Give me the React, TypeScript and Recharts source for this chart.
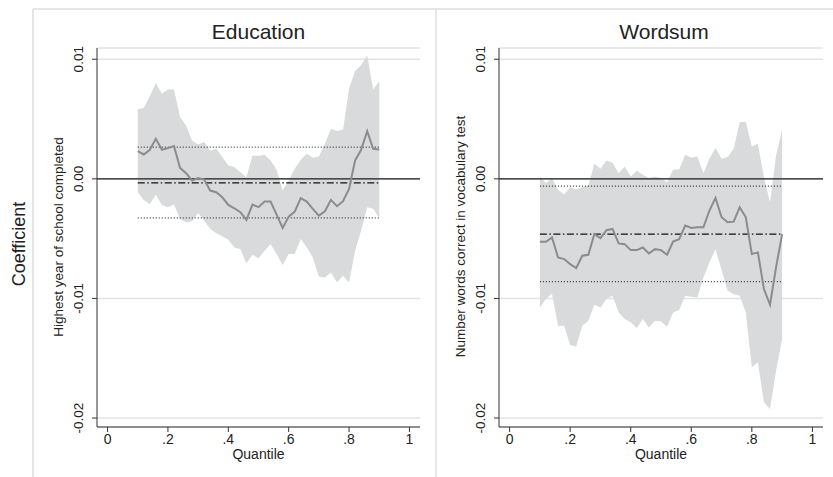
import React from 'react';
import { ComposedChart, Area, Line, XAxis, YAxis, CartesianGrid, ReferenceLine } from 'recharts';

// quantiles estimated, step .02
const QUANTILES = [
  0.1, 0.12, 0.14, 0.16, 0.18, 0.2, 0.22, 0.24, 0.26, 0.28, 0.3, 0.32, 0.34, 0.36,
  0.38, 0.4, 0.42, 0.44, 0.46, 0.48, 0.5, 0.52, 0.54, 0.56, 0.58, 0.6, 0.62, 0.64,
  0.66, 0.68, 0.7, 0.72, 0.74, 0.76, 0.78, 0.8, 0.82, 0.84, 0.86, 0.88, 0.9,
];

const EDU_COEF = [
  0.00232, 0.00204, 0.00243, 0.00335, 0.00243, 0.00257, 0.00274, 0.00092, 0.00047, -0.00014,
  0.00006, -0.00006, -0.00098, -0.00112, -0.00154, -0.00218, -0.00246, -0.00279, -0.00344, -0.00215,
  -0.00237, -0.0019, -0.0019, -0.00299, -0.0041, -0.00316, -0.00274, -0.00162, -0.0019, -0.00251,
  -0.00307, -0.00271, -0.00176, -0.00229, -0.00187, -0.00084, 0.00154, 0.00243, 0.00399, 0.00251,
  0.00246,
];
const EDU_UPPER = [
  0.00581, 0.00592, 0.0069, 0.00802, 0.00712, 0.00746, 0.00746, 0.00517, 0.00447, 0.00321,
  0.00288, 0.00307, 0.00237, 0.00251, 0.00182, 0.00112, 0.00098, 0.00056, 0.00014, 0.00196,
  0.0019, 0.00201, 0.00154, 0.00075, -0.00098, -0.00014, 0.00084, 0.00159, 0.0021, 0.00176,
  0.00187, 0.00293, 0.00419, 0.00399, 0.00411, 0.00754, 0.00902, 0.0095, 0.01034, 0.00746,
  0.00816,
];
const EDU_LOWER = [
  -0.00112, -0.00176, -0.0021, -0.00134, -0.00218, -0.00237, -0.00215, -0.00335, -0.00363, -0.00355,
  -0.00285, -0.00349, -0.00419, -0.00455, -0.0048, -0.0051, -0.00574, -0.00588, -0.00705, -0.00635,
  -0.00663, -0.00602, -0.00546, -0.00629, -0.00721, -0.00629, -0.00629, -0.00504, -0.00574, -0.00657,
  -0.00816, -0.00824, -0.00783, -0.00866, -0.0081, -0.00866, -0.00602, -0.00434, -0.00237, -0.00251,
  -0.00327,
];
const EDU_OLS = -0.00034;
const EDU_OLS_CI = [0.00265, -0.00327];

const WORD_COEF = [
  -0.00526, -0.00526, -0.0049, -0.00657, -0.00671, -0.00713, -0.00746, -0.00643, -0.00635, -0.00462,
  -0.00496, -0.0043, -0.00419, -0.0054, -0.00546, -0.00596, -0.00596, -0.00574, -0.00624, -0.00588,
  -0.00596, -0.00635, -0.00524, -0.00504, -0.00391, -0.0041, -0.00405, -0.00405, -0.00265, -0.00159,
  -0.00321, -0.00363, -0.00358, -0.00237, -0.00321, -0.00629, -0.00615, -0.00922, -0.01053, -0.0074,
  -0.00462,
];
const WORD_UPPER = [
  0.0002, -0.00036, 0.00008, -0.00092, -0.00131, -0.0007, -0.00089, -0.0007, -0.00056, 0.00126,
  0.00084, 0.00154, 0.00134, 0.00047, 0.00103, 0.0002, 0.0007, 0.00034, 0.00008, 0.0002,
  0.00006, -0.00028, 0.00075, 0.00081, 0.00201, 0.00176, 0.00187, 0.00047, 0.00168, 0.0026,
  0.00168, 0.00182, 0.00251, 0.00475, 0.00475, 0.00271, 0.00293, 0.00014, -0.00196, 0.00196,
  0.00411,
];
const WORD_LOWER = [
  -0.01075, -0.01005, -0.00958, -0.01228, -0.01228, -0.01389, -0.01401, -0.01228, -0.01186, -0.01053,
  -0.01075, -0.01005, -0.00977, -0.01117, -0.01172, -0.012, -0.01248, -0.01172, -0.01242, -0.01186,
  -0.0119, -0.01236, -0.01117, -0.01097, -0.00977, -0.00986, -0.00992, -0.00824, -0.00699, -0.00588,
  -0.00763, -0.00936, -0.00964, -0.00977, -0.01117, -0.01576, -0.01534, -0.01869, -0.01924, -0.01604,
  -0.01339,
];
const WORD_OLS = -0.00462;
const WORD_OLS_CI = [-0.00061, -0.0086];

const X_TICKS = [0, 0.2, 0.4, 0.6, 0.8, 1];
const Y_TICKS = [-0.02, -0.01, 0, 0.01];

const FONT = '"Liberation Sans", Arial, Helvetica, sans-serif';
const FRAME = '#e6e6e6';

const toRows = (coef: number[], lo: number[], hi: number[]) =>
  QUANTILES.map((q, i) => ({ q, coef: coef[i], band: [lo[i], hi[i]] }));

const fmtX = (v: number) => (v === 0 ? '0' : v === 1 ? '1' : String(v).replace(/^0/, ''));

const RotatedTick = (props: any) => {
  const { x, y, payload } = props;
  const tx = x - 6.5;
  return (
    <text
      x={tx}
      y={y}
      transform={`rotate(-90 ${tx} ${y})`}
      textAnchor="middle"
      fontSize={13.5}
      fontFamily={FONT}
      fill="#222"
    >
      {payload.value.toFixed(2)}
    </text>
  );
};

type PanelProps = {
  rows: any[];
  ols: number;
  ci: number[];
  width: number;
  yWidth: number;
  right: number;
};

const Panel = ({ rows, ols, ci, width, yWidth, right }: PanelProps) => (
  <ComposedChart width={width} height={468} data={rows} margin={{ top: 39, right, left: 0, bottom: 0 }}>
    <CartesianGrid vertical={false} stroke="#e3e3e3" strokeWidth={1.5} />
    <XAxis
      dataKey="q"
      type="number"
      domain={[-0.035, 1.035]}
      ticks={X_TICKS}
      tickFormatter={fmtX}
      height={50}
      tickSize={5}
      stroke="#333"
      tick={{ fontSize: 14, fontFamily: FONT, fill: '#222' }}
      label={{ value: 'Quantile', position: 'insideBottom', offset: 18, fontSize: 14, fontFamily: FONT, fill: '#222' }}
    />
    <YAxis
      type="number"
      domain={[-0.02075, 0.01094]}
      ticks={Y_TICKS}
      width={yWidth}
      tickSize={5}
      stroke="#333"
      tick={<RotatedTick />}
      allowDataOverflow
    />
    <Area
      dataKey="band"
      type="linear"
      stroke="none"
      fill="#d9dadc"
      fillOpacity={1}
      isAnimationActive={false}
      dot={false}
      activeDot={false}
    />
    <ReferenceLine y={0} stroke="#1a1a1a" strokeWidth={1.3} />
    {ci.map((v, i) => (
      <ReferenceLine
        key={i}
        segment={[{ x: QUANTILES[0], y: v }, { x: QUANTILES[QUANTILES.length - 1], y: v }]}
        stroke="#111"
        strokeWidth={1}
        strokeDasharray="1 2"
      />
    ))}
    <ReferenceLine
      segment={[{ x: QUANTILES[0], y: ols }, { x: QUANTILES[QUANTILES.length - 1], y: ols }]}
      stroke="#111"
      strokeWidth={1.2}
      strokeDasharray="7 2.5 1.5 2.5"
    />
    <Line
      dataKey="coef"
      type="linear"
      stroke="#8c8c8c"
      strokeWidth={2}
      dot={false}
      activeDot={false}
      isAnimationActive={false}
    />
  </ComposedChart>
);

export default function App() {
  const eduRows = toRows(EDU_COEF, EDU_LOWER, EDU_UPPER);
  const wordRows = toRows(WORD_COEF, WORD_LOWER, WORD_UPPER);
  return (
    <div style={{ position: 'absolute', left: 0, top: 0, width: 833, height: 477, background: '#fff', overflow: 'hidden' }}>
      <svg width={833} height={477} style={{ position: 'absolute', left: 0, top: 0 }} fontFamily={FONT}>
        <line x1={33} y1={9} x2={833} y2={9} stroke={FRAME} strokeWidth={2} />
        <line x1={33} y1={9} x2={33} y2={477} stroke={FRAME} strokeWidth={2} />
        <line x1={436} y1={9} x2={436} y2={477} stroke={FRAME} strokeWidth={2} />
        <text x={258.5} y={39} textAnchor="middle" fontSize={21} fill="#222">Education</text>
        <text x={664} y={39} textAnchor="middle" fontSize={21} fill="#222">Wordsum</text>
        <text x={25} y={244} transform="rotate(-90 25 244)" textAnchor="middle" fontSize={18} fill="#222">Coefficient</text>
        <text x={63} y={237} transform="rotate(-90 63 237)" textAnchor="middle" fontSize={13.5} fill="#222">
          Highest year of school completed
        </text>
        <text x={465} y={236.5} transform="rotate(-90 465 236.5)" textAnchor="middle" fontSize={13.5} fill="#222">
          Number words correct in vocabulary test
        </text>
      </svg>
      <div style={{ position: 'absolute', left: 33, top: 9 }}>
        <Panel rows={eduRows} ols={EDU_OLS} ci={EDU_OLS_CI} width={403} yWidth={64} right={16} />
      </div>
      <div style={{ position: 'absolute', left: 436, top: 9 }}>
        <Panel rows={wordRows} ols={WORD_OLS} ci={WORD_OLS_CI} width={397} yWidth={63} right={10} />
      </div>
    </div>
  );
}
